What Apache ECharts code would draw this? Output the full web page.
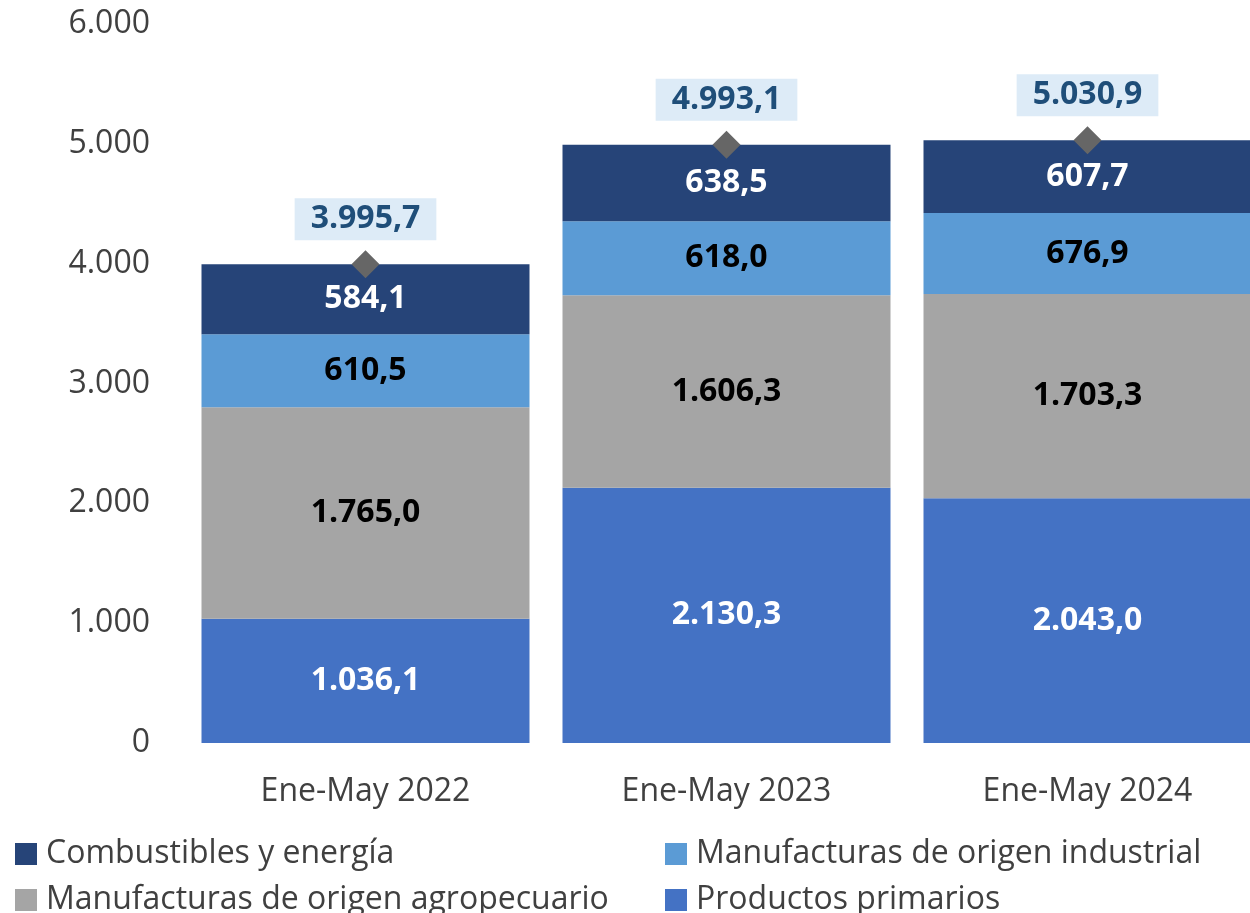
<!DOCTYPE html>
<html>
<head>
<meta charset="utf-8">
<script src="https://cdn.jsdelivr.net/npm/echarts@6/dist/echarts.min.js"></script>
<style>
  html, body { margin: 0; padding: 0; background: #fff; }
  #chart { width: 1250px; height: 913px; }
</style>
</head>
<body>
<div id="chart"></div>
<script>
// Exportaciones por grandes rubros (millones de USD)
const categories = ['Ene-May 2022', 'Ene-May 2023', 'Ene-May 2024']
const productosPrimarios = [1036.1, 2130.3, 2043.0]
const moa = [1765.0, 1606.3, 1703.3]
const moi = [610.5, 618.0, 676.9]
const combustibles = [584.1, 638.5, 607.7]
const totals = [3995.7, 4993.1, 5030.9]
const yTicks = [0, 1000, 2000, 3000, 4000, 5000, 6000]

const FONT = '"Open Sans", sans-serif'

const fmt = (v, dec) => {
  const parts = v.toFixed(dec).split('.')
  parts[0] = parts[0].replace(/\B(?=(\d{3})+(?!\d))/g, '.')
  return parts.join(',')
}

const barLabel = (color) => ({
  show: true,
  position: 'inside',
  color: color,
  fontFamily: FONT,
  fontWeight: 'bold',
  fontSize: 32,
  formatter: (p) => fmt(p.value, 1)
})

const makeBar = (name, data, color, labelColor) => ({
  name: name,
  type: 'bar',
  stack: 'total',
  data: data,
  barWidth: 328,
  itemStyle: { color: color },
  label: barLabel(labelColor),
  emphasis: { disabled: true }
})

const chart = echarts.init(document.getElementById('chart'))

const legendBase = {
  orient: 'vertical',
  bottom: -8,
  itemWidth: 22,
  itemHeight: 22,
  itemGap: 14,
  icon: 'rect',
  selectedMode: false,
  textStyle: { fontFamily: FONT, fontSize: 32, color: '#404040', padding: [0, 0, 0, 4] }
}

const option = {
  animation: false,
  grid: { left: 185, right: -18, top: 24, bottom: 170, outerBoundsMode: 'none', containLabel: false },
  legend: [
    Object.assign({}, legendBase, { left: 10, data: ['Combustibles y energía', 'Manufacturas de origen agropecuario'] }),
    Object.assign({}, legendBase, { left: 660, data: ['Manufacturas de origen industrial', 'Productos primarios'] })
  ],
  xAxis: {
    type: 'category',
    data: categories,
    axisLine: { show: false },
    axisTick: { show: false },
    axisLabel: { fontFamily: FONT, fontSize: 32, color: '#404040', margin: 33 }
  },
  yAxis: {
    type: 'value',
    min: yTicks[0],
    max: yTicks[yTicks.length - 1],
    interval: 1000,
    splitLine: { show: false },
    axisLine: { show: false },
    axisTick: { show: false },
    axisLabel: {
      fontFamily: FONT, fontSize: 32, color: '#404040', margin: 35,
      formatter: (v) => fmt(v, 0)
    }
  },
  series: [
    makeBar('Productos primarios', productosPrimarios, '#4472C4', '#ffffff'),
    makeBar('Manufacturas de origen agropecuario', moa, '#A5A5A5', '#000000'),
    makeBar('Manufacturas de origen industrial', moi, '#5B9BD5', '#000000'),
    makeBar('Combustibles y energía', combustibles, '#264478', '#ffffff'),
    {
      name: 'Total',
      type: 'scatter',
      data: totals,
      symbol: 'diamond',
      symbolSize: [28, 28],
      itemStyle: { color: '#666666', opacity: 1 },
      z: 5,
      label: {
        show: true,
        position: 'top',
        distance: 10,
        fontFamily: FONT,
        fontWeight: 'bold',
        fontSize: 32,
        color: '#1F4E79',
        backgroundColor: '#DDEBF7',
        padding: [5, 16, 5, 16],
        formatter: (p) => fmt(p.value, 1)
      },
      emphasis: { disabled: true }
    }
  ]
}

chart.setOption(option)
</script>
</body>
</html>
